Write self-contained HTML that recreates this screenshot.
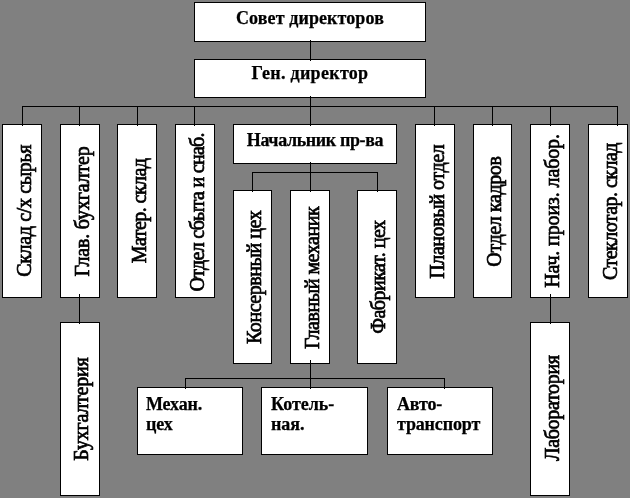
<!DOCTYPE html>
<html><head><meta charset="utf-8">
<style>
html,body{margin:0;padding:0;}
body{width:630px;height:498px;background:#808080;position:relative;overflow:hidden;font-family:"Liberation Serif",serif;color:#000;}
.b{position:absolute;background:#fff;border:1px solid #000;box-sizing:border-box;}
.l{position:absolute;background:#000;z-index:2;}
.h{font-weight:bold;font-size:18px;-webkit-text-stroke:0.25px #000;text-align:center;white-space:nowrap;}
.v{display:flex;align-items:center;justify-content:center;}
.v span{display:block;white-space:nowrap;font-size:20px;line-height:22px;-webkit-text-stroke:0.7px #000;}
.s{font-weight:bold;font-size:18px;-webkit-text-stroke:0.25px #000;line-height:20px;padding:6px 0 0 9px;white-space:nowrap;}
#w{position:absolute;left:0;top:0;width:630px;height:498px;background:#808080;filter:grayscale(1);}
</style></head><body><div id="w">
<div class="l" style="left:310px;top:40px;width:1px;height:20.5px"></div>
<div class="l" style="left:310px;top:96px;width:1px;height:29.5px"></div>
<div class="l" style="left:22px;top:106px;width:596px;height:1px"></div>
<div class="l" style="left:22px;top:106px;width:1px;height:19.5px"></div>
<div class="l" style="left:79px;top:106px;width:1px;height:19.5px"></div>
<div class="l" style="left:137px;top:106px;width:1px;height:19.5px"></div>
<div class="l" style="left:194px;top:106px;width:1px;height:19.5px"></div>
<div class="l" style="left:434px;top:106px;width:1px;height:19.5px"></div>
<div class="l" style="left:492px;top:106px;width:1px;height:19.5px"></div>
<div class="l" style="left:550px;top:106px;width:1px;height:19.5px"></div>
<div class="l" style="left:617px;top:106px;width:1px;height:19.5px"></div>
<div class="l" style="left:310px;top:162px;width:1px;height:29.5px"></div>
<div class="l" style="left:310px;top:360px;width:1px;height:28.5px"></div>
<div class="l" style="left:252px;top:172px;width:126px;height:1px"></div>
<div class="l" style="left:252px;top:172px;width:1px;height:19.5px"></div>
<div class="l" style="left:377px;top:172px;width:1px;height:19.5px"></div>
<div class="l" style="left:185px;top:378px;width:260px;height:1px"></div>
<div class="l" style="left:185px;top:378px;width:1px;height:10.5px"></div>
<div class="l" style="left:444px;top:378px;width:1px;height:10.5px"></div>
<div class="l" style="left:79px;top:294px;width:1px;height:29.5px"></div>
<div class="l" style="left:550px;top:294px;width:1px;height:29.5px"></div>
<div class="b h" style="left:194px;top:2px;width:232px;height:40px;line-height:30px;letter-spacing:0.1px">Совет директоров</div>
<div class="b h" style="left:194px;top:59px;width:232px;height:39px;line-height:27px;letter-spacing:0.3px">Ген. директор</div>
<div class="b h" style="left:233px;top:124px;width:164px;height:40px;line-height:30px;letter-spacing:-0.37px">Начальник пр-ва</div>
<div class="b v" style="left:2px;top:124px;width:40px;height:174px"><span style="letter-spacing:-0.357px;transform:translate(1.70px,-0.14px) rotate(-90deg)">Склад с/х сырья</span></div>
<div class="b v" style="left:60px;top:124px;width:40px;height:174px"><span style="letter-spacing:-0.167px;transform:translate(1.70px,0.43px) rotate(-90deg)">Глав. бухгалтер</span></div>
<div class="b v" style="left:117px;top:124px;width:40px;height:174px"><span style="letter-spacing:-0.548px;transform:translate(1.70px,-0.06px) rotate(-90deg)">Матер. склад</span></div>
<div class="b v" style="left:175px;top:124px;width:40px;height:174px"><span style="letter-spacing:-0.721px;transform:translate(1.70px,1.29px) rotate(-90deg)">Отдел сбыта и снаб.</span></div>
<div class="b v" style="left:415px;top:124px;width:40px;height:174px"><span style="letter-spacing:-0.421px;transform:translate(1.70px,0.73px) rotate(-90deg)">Плановый отдел</span></div>
<div class="b v" style="left:473px;top:124px;width:39px;height:174px"><span style="letter-spacing:-0.396px;transform:translate(1.70px,0.57px) rotate(-90deg)">Отдел кадров</span></div>
<div class="b v" style="left:530px;top:124px;width:40px;height:174px"><span style="letter-spacing:-0.124px;transform:translate(1.70px,0.01px) rotate(-90deg)">Нач. произ. лабор.</span></div>
<div class="b v" style="left:588px;top:124px;width:40px;height:174px"><span style="letter-spacing:-0.548px;transform:translate(1.70px,0.57px) rotate(-90deg)">Стеклотар. склад</span></div>
<div class="b v" style="left:233px;top:190px;width:39px;height:174px"><span style="letter-spacing:-0.452px;transform:translate(1.70px,0.36px) rotate(-90deg)">Консервный цех</span></div>
<div class="b v" style="left:290px;top:190px;width:40px;height:174px"><span style="letter-spacing:-0.462px;transform:translate(1.70px,0.94px) rotate(-90deg)">Главный механик</span></div>
<div class="b v" style="left:357px;top:190px;width:40px;height:174px"><span style="letter-spacing:-0.498px;transform:translate(1.70px,0.15px) rotate(-90deg)">Фабрикат. цех</span></div>
<div class="b v" style="left:60px;top:322px;width:40px;height:174px"><span style="letter-spacing:-0.245px;transform:translate(1.70px,0.14px) rotate(-90deg)">Бухгалтерия</span></div>
<div class="b v" style="left:530px;top:322px;width:40px;height:174px"><span style="letter-spacing:-0.337px;transform:translate(1.70px,-0.79px) rotate(-90deg)">Лаборатория</span></div>
<div class="b s" style="left:137px;top:387px;width:106px;height:68px;padding-left:8px"><span style="letter-spacing:-0.15px">Механ.<br>цех</span></div>
<div class="b s" style="left:261px;top:387px;width:107px;height:68px">Котель-<br>ная.</div>
<div class="b s" style="left:387px;top:387px;width:106px;height:68px"><span style="letter-spacing:-0.15px">Авто-<br>транспорт</span></div>
</div></body></html>
